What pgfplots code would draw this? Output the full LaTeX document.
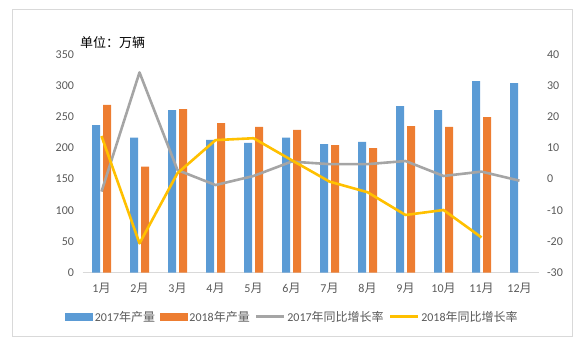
\documentclass[border=0pt]{standalone}
\usepackage{pgfplots}
\pgfplotsset{compat=1.18}
\usepackage{fontspec}
\setmainfont{Carlito}
\newfontfamily\cjk{Noto Sans CJK SC}
\definecolor{c17}{HTML}{5B9BD5}
\definecolor{c18}{HTML}{ED7D31}
\definecolor{g17}{HTML}{A5A5A5}
\definecolor{y18}{HTML}{FFC000}
\definecolor{txt}{HTML}{595959}
\definecolor{frame}{HTML}{D9D9D9}
\begin{document}
\begin{tikzpicture}[x=1bp,y=1bp]
\useasboundingbox (0,0) rectangle (585,346);
\draw[frame, line width=0.75bp] (12.5,9.3) rectangle (572.7,336.5);
\node[anchor=west, inner sep=0pt, text=black] at (80,303.3) {\cjk\fontsize{13bp}{15bp}\selectfont 单位：万辆};
\pgfplotsset{
  common/.style={
    at={(82.5bp,73.3bp)}, anchor=south west,
    scale only axis, width=456bp, height=218.4bp,
    xmin=-0.5, xmax=11.5,
    major tick length=0pt,
    tick label style={text=txt, font=\fontsize{12bp}{14bp}\selectfont},
    /pgf/number format/assume math mode=true,
  }
}
\begin{axis}[common,
  ymin=0, ymax=350, ytick={0,50,...,350},
  axis x line*=bottom, axis y line*=left,
  y axis line style={draw=none},
  x axis line style={frame, line width=0.75bp, -},
  xtick={0,...,11},
  xticklabels={1{\cjk 月},2{\cjk 月},3{\cjk 月},4{\cjk 月},5{\cjk 月},6{\cjk 月},7{\cjk 月},8{\cjk 月},9{\cjk 月},10{\cjk 月},11{\cjk 月},12{\cjk 月}},
  xticklabel style={yshift=-7bp},
  yticklabel style={xshift=-5bp},
  ybar=3bp, bar width=8bp,
]
\addplot[fill=c17, draw=none] coordinates {(0,236.7) (1,216.3) (2,260.7) (3,212.7) (4,207.9) (5,216.3) (6,206.2) (7,209.5) (8,267.1) (9,260.7) (10,307.2) (11,304.0)};
\addplot[fill=c18, draw=none] coordinates {(0,268.8) (1,169.9) (2,262.3) (3,239.9) (4,233.5) (5,228.7) (6,204.6) (7,199.8) (8,235.1) (9,233.5) (10,249.5)};
\end{axis}
\begin{axis}[common,
  ymin=-30, ymax=40, ytick={-30,-20,...,40},
  yticklabels={-30,-20,-10,0,10,20,30,40},
  axis y line*=right, axis x line=none,
  y axis line style={draw=none},
  yticklabel style={xshift=5bp},
  legend style={at={(0.4605,-0.2015)}, anchor=center, draw=none, fill=none,
    legend columns=4, font=\fontsize{12bp}{14bp}\selectfont, text=txt,
    /tikz/every even column/.append style={column sep=3bp}},
  legend cell align=left,
]
\addlegendimage{legend image code/.code={\fill[c17] (0bp,-3.5bp) rectangle (27bp,3.5bp);}}
\addlegendentry{2017{\cjk 年产量}}
\addlegendimage{legend image code/.code={\fill[c18] (0bp,-3.5bp) rectangle (27bp,3.5bp);}}
\addlegendentry{2018{\cjk 年产量}}
\addplot[g17, line width=2.6bp, line join=round, mark=none, legend image code/.code={\draw[g17, line width=2.6bp] (0bp,0bp) -- (28bp,0bp);}] coordinates {(0,-4.0) (1,34.2) (2,2.9) (3,-1.9) (4,1.0) (5,5.6) (6,4.8) (7,4.8) (8,5.8) (9,1.0) (10,2.4) (11,-0.5)};
\addlegendentry{2017{\cjk 年同比增长率}}
\addplot[y18, line width=2.6bp, line join=round, mark=none, legend image code/.code={\draw[y18, line width=2.6bp] (0bp,0bp) -- (28bp,0bp);}] coordinates {(0,13.8) (1,-20.6) (2,1.9) (3,12.5) (4,13.1) (5,6.1) (6,-0.8) (7,-4.2) (8,-11.5) (9,-9.9) (10,-18.7)};
\addlegendentry{2018{\cjk 年同比增长率}}
\end{axis}
\end{tikzpicture}
\end{document}
